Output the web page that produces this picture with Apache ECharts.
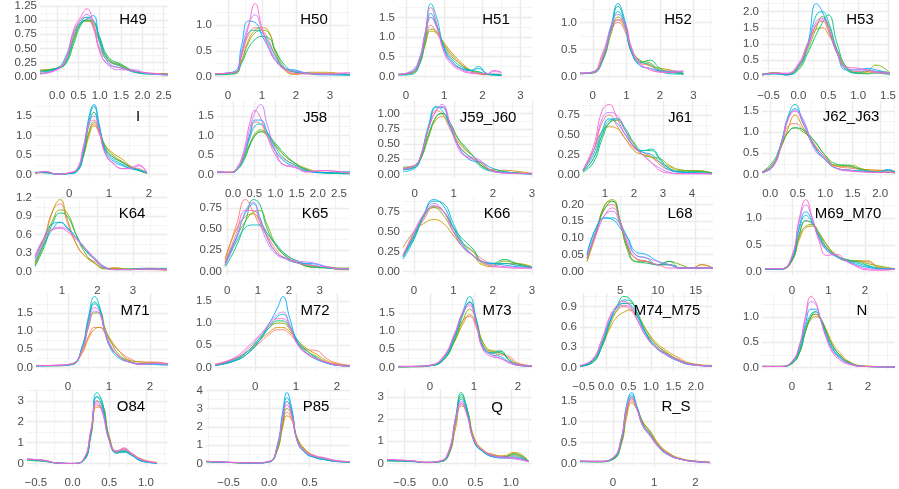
<!DOCTYPE html>
<html>
<head>
<meta charset="utf-8">
<script src="https://cdn.jsdelivr.net/npm/echarts@6.0.0/dist/echarts.min.js"></script>
<style>
html, body { margin: 0; padding: 0; background: #fff; }
#main { width: 899px; height: 489px; }
</style>
</head>
<body>
<div id="main"></div>
<script>
// one colour per year, ggplot hue order
var colors = ['#F8766D', '#CD9600', '#7CAE00', '#00BE67', '#00BFC4', '#00A9FF', '#C77CFF', '#FF61CC'];

// ---- row 1 ----
var xH49 = [-0.4, 0.0, 0.2, 0.4, 0.55, 0.7, 0.85, 1.0, 1.2, 1.5, 1.8, 2.1, 2.6];
var dH49 = [
    [0.08, 0.15, 0.3, 0.75, 1.0, 1.05, 0.85, 0.5, 0.28, 0.18, 0.08, 0.06, 0.04],
    [0.12, 0.15, 0.28, 0.7, 0.95, 1.0, 0.9, 0.6, 0.3, 0.2, 0.1, 0.06, 0.05],
    [0.1, 0.14, 0.25, 0.65, 0.92, 0.98, 0.95, 0.65, 0.32, 0.2, 0.1, 0.05, 0.05],
    [0.1, 0.15, 0.22, 0.6, 0.9, 1.0, 0.98, 0.7, 0.35, 0.22, 0.1, 0.05, 0.04],
    [0.08, 0.14, 0.25, 0.7, 0.95, 1.05, 1.0, 0.65, 0.3, 0.18, 0.08, 0.05, 0.03],
    [0.05, 0.15, 0.35, 0.8, 0.95, 1.02, 1.08, 0.6, 0.25, 0.15, 0.1, 0.06, 0.03],
    [0.05, 0.12, 0.3, 0.8, 1.0, 1.1, 0.9, 0.45, 0.2, 0.12, 0.12, 0.06, 0.03],
    [0.05, 0.13, 0.3, 0.85, 1.05, 1.2, 0.95, 0.45, 0.22, 0.15, 0.1, 0.07, 0.04]
];
var xH50 = [-0.38, 0.2, 0.4, 0.6, 0.8, 1.0, 1.2, 1.4, 1.7, 2.0, 2.4, 2.8, 3.59];
var dH50 = [
    [0.05, 0.08, 0.4, 0.8, 0.95, 0.9, 0.7, 0.4, 0.12, 0.05, 0.06, 0.05, 0.03],
    [0.04, 0.07, 0.3, 0.7, 0.9, 0.95, 0.88, 0.45, 0.1, 0.04, 0.08, 0.08, 0.03],
    [0.05, 0.06, 0.3, 0.65, 0.85, 0.9, 0.85, 0.5, 0.15, 0.08, 0.05, 0.05, 0.03],
    [0.03, 0.05, 0.25, 0.55, 0.72, 0.78, 0.75, 0.5, 0.2, 0.08, 0.06, 0.04, 0.03],
    [0.05, 0.08, 0.45, 0.85, 0.9, 0.85, 0.65, 0.4, 0.15, 0.1, 0.06, 0.04, 0.03],
    [0.05, 0.1, 0.6, 1.08, 1.05, 0.8, 0.55, 0.32, 0.15, 0.12, 0.05, 0.03, 0.03],
    [0.05, 0.08, 0.5, 1.0, 1.2, 0.9, 0.6, 0.35, 0.15, 0.1, 0.06, 0.04, 0.06],
    [0.05, 0.08, 0.4, 0.95, 1.42, 0.95, 0.55, 0.3, 0.12, 0.06, 0.05, 0.05, 0.08]
];
var xH51 = [-0.21, 0.15, 0.35, 0.5, 0.65, 0.8, 1.0, 1.2, 1.45, 1.7, 1.9, 2.1, 2.3, 2.5];
var dH51 = [
    [0.05, 0.1, 0.4, 0.9, 1.3, 1.1, 0.8, 0.5, 0.3, 0.12, 0.06, 0.04, 0.06, 0.05],
    [0.05, 0.08, 0.3, 0.8, 1.15, 1.1, 0.85, 0.6, 0.35, 0.15, 0.08, 0.05, 0.05, 0.04],
    [0.04, 0.08, 0.3, 0.8, 1.2, 1.15, 0.8, 0.55, 0.3, 0.15, 0.1, 0.05, 0.04, 0.03],
    [0.05, 0.1, 0.35, 0.95, 1.5, 1.3, 0.75, 0.45, 0.25, 0.15, 0.12, 0.06, 0.04, 0.03],
    [0.03, 0.05, 0.3, 1.0, 1.85, 1.5, 0.7, 0.35, 0.2, 0.15, 0.25, 0.08, 0.03, 0.02],
    [0.05, 0.12, 0.45, 1.1, 1.6, 1.3, 0.7, 0.4, 0.2, 0.15, 0.2, 0.08, 0.05, 0.04],
    [0.05, 0.15, 0.45, 1.05, 1.5, 1.25, 0.65, 0.35, 0.18, 0.1, 0.08, 0.06, 0.12, 0.1],
    [0.05, 0.1, 0.4, 1.1, 1.75, 1.35, 0.6, 0.3, 0.15, 0.08, 0.07, 0.06, 0.15, 0.1]
];
var xH52 = [-0.38, 0.0, 0.3, 0.55, 0.75, 0.95, 1.15, 1.4, 1.7, 2.0, 2.3, 2.7];
var dH52 = [
    [0.05, 0.08, 0.45, 0.85, 1.0, 0.85, 0.45, 0.25, 0.2, 0.1, 0.1, 0.03],
    [0.06, 0.08, 0.35, 0.85, 1.05, 0.9, 0.5, 0.3, 0.2, 0.15, 0.12, 0.05],
    [0.05, 0.07, 0.3, 0.8, 1.1, 0.95, 0.5, 0.3, 0.25, 0.12, 0.08, 0.06],
    [0.05, 0.06, 0.3, 0.9, 1.3, 1.0, 0.45, 0.25, 0.3, 0.15, 0.08, 0.05],
    [0.06, 0.07, 0.35, 0.9, 1.2, 0.95, 0.45, 0.28, 0.22, 0.1, 0.05, 0.04],
    [0.05, 0.08, 0.35, 0.95, 1.35, 1.05, 0.5, 0.2, 0.15, 0.1, 0.08, 0.08],
    [0.06, 0.08, 0.4, 0.95, 1.15, 0.95, 0.5, 0.22, 0.15, 0.08, 0.1, 0.1],
    [0.06, 0.07, 0.35, 0.85, 1.05, 1.0, 0.55, 0.25, 0.12, 0.08, 0.07, 0.1]
];
var xH53 = [-0.61, -0.4, -0.2, 0.0, 0.15, 0.3, 0.4, 0.5, 0.65, 0.8, 1.0, 1.15, 1.3, 1.53];
var dH53 = [
    [0.05, 0.1, 0.05, 0.3, 0.9, 1.6, 1.7, 1.4, 0.7, 0.25, 0.15, 0.15, 0.12, 0.1],
    [0.03, 0.12, 0.08, 0.35, 1.0, 1.45, 1.5, 1.3, 0.8, 0.3, 0.1, 0.1, 0.15, 0.12],
    [0.05, 0.08, 0.05, 0.25, 0.8, 1.5, 1.85, 1.6, 0.8, 0.25, 0.1, 0.15, 0.35, 0.1],
    [0.08, 0.1, 0.05, 0.2, 0.7, 1.3, 1.65, 1.9, 1.0, 0.3, 0.1, 0.08, 0.1, 0.05],
    [0.05, 0.08, 0.05, 0.3, 0.9, 1.9, 2.0, 1.7, 0.8, 0.2, 0.1, 0.2, 0.15, 0.08],
    [0.04, 0.08, 0.05, 0.3, 0.95, 2.25, 2.0, 1.5, 0.7, 0.2, 0.2, 0.25, 0.2, 0.1],
    [0.05, 0.1, 0.1, 0.4, 1.0, 1.7, 1.8, 1.5, 0.7, 0.25, 0.2, 0.2, 0.15, 0.1],
    [0.05, 0.1, 0.08, 0.35, 0.9, 1.6, 1.75, 1.5, 0.75, 0.3, 0.25, 0.2, 0.12, 0.1]
];

// ---- row 2 ----
var xI = [-0.86, -0.6, -0.3, 0.0, 0.2, 0.35, 0.5, 0.62, 0.75, 0.9, 1.1, 1.35, 1.55, 1.75, 1.95];
var dI = [
    [0.03, 0.06, 0.01, 0.03, 0.12, 0.5, 1.1, 1.3, 1.05, 0.65, 0.45, 0.3, 0.18, 0.15, 0.05],
    [0.05, 0.05, 0.01, 0.04, 0.12, 0.45, 1.0, 1.25, 1.1, 0.75, 0.55, 0.38, 0.2, 0.1, 0.04],
    [0.04, 0.05, 0.01, 0.03, 0.1, 0.45, 1.1, 1.35, 1.15, 0.75, 0.5, 0.32, 0.2, 0.1, 0.03],
    [0.05, 0.06, 0.01, 0.03, 0.1, 0.5, 1.3, 1.6, 1.2, 0.7, 0.45, 0.3, 0.18, 0.12, 0.03],
    [0.06, 0.04, 0.01, 0.02, 0.08, 0.5, 1.4, 1.75, 1.25, 0.65, 0.4, 0.25, 0.15, 0.12, 0.04],
    [0.04, 0.06, 0.01, 0.03, 0.1, 0.6, 1.5, 1.8, 1.3, 0.6, 0.35, 0.22, 0.15, 0.1, 0.04],
    [0.03, 0.08, 0.01, 0.04, 0.15, 0.65, 1.35, 1.5, 1.15, 0.55, 0.3, 0.15, 0.15, 0.22, 0.03],
    [0.04, 0.07, 0.01, 0.05, 0.15, 0.7, 1.3, 1.4, 1.1, 0.55, 0.28, 0.15, 0.18, 0.25, 0.05]
];
var xJ58 = [-0.38, -0.05, 0.1, 0.25, 0.4, 0.52, 0.65, 0.8, 1.0, 1.2, 1.45, 1.75, 2.1, 2.76];
var dJ58 = [
    [0.08, 0.05, 0.15, 0.5, 1.0, 1.35, 1.3, 1.0, 0.6, 0.4, 0.25, 0.1, 0.05, 0.03],
    [0.05, 0.06, 0.15, 0.4, 0.8, 1.0, 1.1, 1.0, 0.75, 0.5, 0.3, 0.15, 0.06, 0.03],
    [0.06, 0.06, 0.15, 0.4, 0.8, 1.05, 1.15, 1.05, 0.75, 0.5, 0.3, 0.12, 0.05, 0.03],
    [0.05, 0.05, 0.12, 0.35, 0.75, 1.0, 1.1, 1.05, 0.8, 0.55, 0.3, 0.12, 0.05, 0.02],
    [0.07, 0.05, 0.15, 0.45, 0.95, 1.25, 1.3, 1.1, 0.7, 0.42, 0.25, 0.1, 0.04, 0.02],
    [0.06, 0.05, 0.15, 0.5, 1.05, 1.4, 1.4, 1.1, 0.6, 0.35, 0.2, 0.08, 0.05, 0.08],
    [0.05, 0.05, 0.15, 0.5, 1.2, 1.6, 1.8, 1.3, 0.6, 0.25, 0.18, 0.08, 0.1, 0.03],
    [0.08, 0.06, 0.2, 0.6, 1.35, 1.65, 1.45, 1.0, 0.5, 0.25, 0.2, 0.06, 0.1, 0.04]
];
var xJ59 = [-0.3, 0.0, 0.15, 0.35, 0.55, 0.7, 0.9, 1.1, 1.3, 1.5, 1.7, 2.0, 2.5, 3.0];
var dJ59 = [
    [0.08, 0.12, 0.3, 0.75, 1.05, 1.0, 0.75, 0.5, 0.35, 0.25, 0.15, 0.06, 0.03, 0.01],
    [0.1, 0.15, 0.28, 0.65, 0.9, 0.95, 0.8, 0.55, 0.4, 0.3, 0.15, 0.08, 0.06, 0.02],
    [0.12, 0.15, 0.25, 0.6, 0.95, 1.0, 0.85, 0.6, 0.42, 0.3, 0.18, 0.06, 0.03, 0.01],
    [0.1, 0.12, 0.25, 0.65, 0.95, 1.0, 0.85, 0.6, 0.45, 0.3, 0.15, 0.06, 0.03, 0.01],
    [0.05, 0.1, 0.3, 0.8, 1.12, 1.05, 0.8, 0.5, 0.35, 0.25, 0.12, 0.05, 0.02, 0.01],
    [0.08, 0.12, 0.3, 0.75, 1.1, 1.1, 0.8, 0.5, 0.3, 0.22, 0.2, 0.1, 0.03, 0.01],
    [0.1, 0.15, 0.3, 0.75, 1.05, 1.15, 0.85, 0.45, 0.3, 0.28, 0.22, 0.05, 0.02, 0.01],
    [0.1, 0.15, 0.3, 0.75, 1.05, 1.12, 0.85, 0.5, 0.3, 0.25, 0.2, 0.06, 0.02, 0.02]
];
var xJ61 = [0.24, 0.6, 0.9, 1.15, 1.4, 1.7, 2.0, 2.3, 2.6, 2.9, 3.2, 3.6, 4.2, 4.69];
var dJ61 = [
    [0.05, 0.3, 0.65, 0.75, 0.62, 0.45, 0.33, 0.28, 0.22, 0.12, 0.06, 0.03, 0.02, 0.01],
    [0.06, 0.3, 0.55, 0.6, 0.58, 0.45, 0.3, 0.25, 0.22, 0.15, 0.1, 0.05, 0.05, 0.02],
    [0.04, 0.2, 0.5, 0.65, 0.68, 0.55, 0.38, 0.25, 0.22, 0.2, 0.12, 0.06, 0.04, 0.02],
    [0.03, 0.15, 0.45, 0.65, 0.7, 0.58, 0.4, 0.3, 0.3, 0.18, 0.08, 0.04, 0.04, 0.02],
    [0.04, 0.2, 0.5, 0.68, 0.7, 0.55, 0.35, 0.3, 0.32, 0.2, 0.08, 0.03, 0.02, 0.01],
    [0.05, 0.25, 0.55, 0.7, 0.65, 0.5, 0.35, 0.28, 0.25, 0.15, 0.06, 0.03, 0.02, 0.01],
    [0.06, 0.3, 0.7, 0.78, 0.75, 0.55, 0.35, 0.25, 0.15, 0.08, 0.03, 0.01, 0.01, 0.01],
    [0.06, 0.35, 0.8, 0.88, 0.72, 0.5, 0.35, 0.25, 0.15, 0.05, 0.02, 0.01, 0.01, 0.01]
];
var xJ62 = [-0.15, 0.05, 0.2, 0.33, 0.45, 0.6, 0.8, 1.0, 1.2, 1.45, 1.7, 1.95, 2.15, 2.27];
var dJ62 = [
    [0.05, 0.25, 0.7, 1.15, 1.2, 1.05, 0.7, 0.4, 0.2, 0.15, 0.12, 0.1, 0.1, 0.08],
    [0.04, 0.2, 0.65, 1.1, 1.4, 1.1, 0.72, 0.4, 0.2, 0.18, 0.12, 0.1, 0.08, 0.06],
    [0.05, 0.25, 0.65, 1.0, 1.1, 1.0, 0.78, 0.45, 0.22, 0.22, 0.12, 0.06, 0.05, 0.04],
    [0.06, 0.3, 0.7, 1.0, 1.1, 1.05, 0.8, 0.45, 0.25, 0.2, 0.1, 0.06, 0.05, 0.04],
    [0.04, 0.2, 0.75, 1.4, 1.65, 1.2, 0.65, 0.35, 0.15, 0.1, 0.08, 0.05, 0.1, 0.05],
    [0.05, 0.2, 0.75, 1.35, 1.55, 1.25, 0.68, 0.35, 0.15, 0.1, 0.08, 0.05, 0.12, 0.05],
    [0.05, 0.18, 0.7, 1.35, 1.5, 1.3, 0.6, 0.35, 0.15, 0.1, 0.06, 0.05, 0.06, 0.04],
    [0.06, 0.22, 0.7, 1.3, 1.5, 1.2, 0.7, 0.4, 0.15, 0.08, 0.06, 0.05, 0.05, 0.04]
];

// ---- row 3 ----
var xK64 = [0.24, 0.5, 0.75, 0.95, 1.15, 1.4, 1.65, 1.95, 2.2, 2.5, 2.9, 3.4, 3.96];
var dK64 = [
    [0.15, 0.55, 1.0, 1.1, 0.8, 0.45, 0.25, 0.15, 0.05, 0.05, 0.03, 0.03, 0.02],
    [0.12, 0.5, 1.0, 1.17, 0.85, 0.45, 0.25, 0.12, 0.04, 0.06, 0.03, 0.04, 0.02],
    [0.1, 0.45, 0.85, 1.0, 0.95, 0.6, 0.3, 0.12, 0.05, 0.04, 0.04, 0.05, 0.04],
    [0.08, 0.4, 0.8, 0.95, 0.9, 0.6, 0.35, 0.18, 0.06, 0.03, 0.04, 0.05, 0.05],
    [0.15, 0.45, 0.7, 0.8, 0.72, 0.55, 0.35, 0.2, 0.08, 0.03, 0.03, 0.04, 0.03],
    [0.22, 0.55, 0.78, 0.8, 0.7, 0.55, 0.38, 0.18, 0.06, 0.03, 0.03, 0.04, 0.03],
    [0.2, 0.5, 0.7, 0.72, 0.68, 0.55, 0.38, 0.18, 0.06, 0.03, 0.03, 0.04, 0.04],
    [0.25, 0.55, 0.68, 0.7, 0.65, 0.52, 0.38, 0.2, 0.07, 0.03, 0.03, 0.04, 0.03]
];
var xK65 = [-0.07, 0.3, 0.6, 0.85, 1.05, 1.3, 1.6, 1.9, 2.3, 2.8, 3.3, 3.7, 3.95];
var dK65 = [
    [0.12, 0.55, 0.85, 0.7, 0.55, 0.42, 0.25, 0.15, 0.1, 0.06, 0.04, 0.03, 0.03],
    [0.15, 0.5, 0.65, 0.68, 0.6, 0.45, 0.3, 0.2, 0.12, 0.05, 0.04, 0.02, 0.02],
    [0.1, 0.4, 0.6, 0.7, 0.72, 0.55, 0.3, 0.18, 0.1, 0.05, 0.05, 0.04, 0.04],
    [0.05, 0.3, 0.6, 0.85, 0.8, 0.5, 0.3, 0.18, 0.1, 0.05, 0.04, 0.03, 0.03],
    [0.08, 0.35, 0.52, 0.55, 0.55, 0.45, 0.32, 0.2, 0.12, 0.07, 0.04, 0.03, 0.03],
    [0.08, 0.4, 0.7, 0.8, 0.65, 0.4, 0.22, 0.15, 0.1, 0.09, 0.05, 0.03, 0.03],
    [0.07, 0.38, 0.72, 0.82, 0.6, 0.35, 0.2, 0.15, 0.12, 0.1, 0.05, 0.03, 0.03],
    [0.1, 0.45, 0.72, 0.72, 0.62, 0.4, 0.22, 0.16, 0.1, 0.07, 0.05, 0.03, 0.04]
];
var xK66 = [-0.28, 0.0, 0.25, 0.5, 0.75, 1.0, 1.25, 1.5, 1.75, 2.0, 2.3, 2.6, 3.0];
var dK66 = [
    [0.2, 0.45, 0.65, 0.8, 0.75, 0.55, 0.35, 0.25, 0.15, 0.1, 0.1, 0.08, 0.05],
    [0.3, 0.5, 0.6, 0.65, 0.6, 0.45, 0.3, 0.2, 0.08, 0.06, 0.1, 0.1, 0.06],
    [0.2, 0.45, 0.7, 0.8, 0.7, 0.5, 0.35, 0.25, 0.1, 0.08, 0.13, 0.1, 0.05],
    [0.18, 0.42, 0.68, 0.82, 0.75, 0.55, 0.4, 0.28, 0.12, 0.1, 0.15, 0.1, 0.05],
    [0.15, 0.4, 0.7, 0.88, 0.85, 0.6, 0.35, 0.2, 0.12, 0.1, 0.1, 0.08, 0.05],
    [0.18, 0.45, 0.72, 0.9, 0.82, 0.55, 0.32, 0.2, 0.12, 0.1, 0.08, 0.06, 0.05],
    [0.2, 0.5, 0.72, 0.85, 0.75, 0.5, 0.3, 0.2, 0.12, 0.08, 0.06, 0.05, 0.04],
    [0.2, 0.48, 0.7, 0.82, 0.75, 0.5, 0.3, 0.2, 0.12, 0.06, 0.05, 0.04, 0.04]
];
var xL68 = [0.6, 1.8, 3.0, 4.0, 5.0, 6.0, 7.0, 8.5, 10, 11.5, 13, 14.5, 15.8, 17.3];
var dL68 = [
    [0.04, 0.12, 0.19, 0.2, 0.15, 0.08, 0.04, 0.03, 0.02, 0.02, 0.01, 0.01, 0.02, 0.01],
    [0.03, 0.11, 0.2, 0.21, 0.14, 0.07, 0.04, 0.03, 0.02, 0.02, 0.01, 0.01, 0.02, 0.01],
    [0.03, 0.12, 0.2, 0.215, 0.15, 0.06, 0.03, 0.03, 0.02, 0.03, 0.02, 0.01, 0.01, 0.01],
    [0.04, 0.12, 0.19, 0.21, 0.15, 0.07, 0.03, 0.025, 0.02, 0.03, 0.01, 0.01, 0.01, 0.01],
    [0.05, 0.13, 0.16, 0.16, 0.14, 0.1, 0.05, 0.04, 0.02, 0.02, 0.01, 0.01, 0.01, 0.01],
    [0.05, 0.13, 0.16, 0.155, 0.13, 0.1, 0.06, 0.05, 0.03, 0.02, 0.01, 0.01, 0.01, 0.01],
    [0.04, 0.12, 0.17, 0.18, 0.14, 0.09, 0.05, 0.04, 0.03, 0.02, 0.01, 0.01, 0.01, 0.01],
    [0.04, 0.11, 0.17, 0.19, 0.15, 0.08, 0.04, 0.03, 0.02, 0.01, 0.01, 0.01, 0.01, 0.01]
];
var xM69 = [-0.74, -0.3, 0.0, 0.2, 0.38, 0.55, 0.75, 0.95, 1.2, 1.5, 1.8, 2.05, 2.4, 2.82];
var dM69 = [
    [0.05, 0.04, 0.2, 0.7, 0.95, 0.9, 0.65, 0.45, 0.3, 0.22, 0.18, 0.18, 0.06, 0.04],
    [0.05, 0.04, 0.2, 0.6, 0.82, 0.85, 0.7, 0.5, 0.32, 0.22, 0.2, 0.2, 0.08, 0.05],
    [0.04, 0.05, 0.2, 0.65, 0.85, 0.88, 0.72, 0.5, 0.3, 0.2, 0.2, 0.15, 0.1, 0.05],
    [0.04, 0.05, 0.22, 0.7, 0.95, 0.9, 0.68, 0.45, 0.3, 0.22, 0.18, 0.12, 0.06, 0.04],
    [0.05, 0.05, 0.25, 0.8, 1.05, 0.92, 0.65, 0.42, 0.3, 0.2, 0.15, 0.1, 0.05, 0.04],
    [0.04, 0.04, 0.25, 0.85, 1.12, 0.95, 0.62, 0.4, 0.28, 0.2, 0.12, 0.08, 0.05, 0.05],
    [0.05, 0.05, 0.28, 0.95, 1.25, 1.0, 0.6, 0.4, 0.3, 0.18, 0.1, 0.05, 0.04, 0.05],
    [0.05, 0.05, 0.3, 1.0, 1.35, 1.02, 0.55, 0.3, 0.32, 0.2, 0.08, 0.03, 0.02, 0.04]
];

// ---- row 4 ----
var xM71 = [-0.78, -0.3, 0.1, 0.35, 0.5, 0.65, 0.78, 0.9, 1.05, 1.25, 1.5, 1.8, 2.1, 2.44];
var dM71 = [
    [0.05, 0.06, 0.1, 0.45, 0.85, 1.1, 1.1, 0.95, 0.7, 0.45, 0.25, 0.15, 0.15, 0.1],
    [0.06, 0.05, 0.1, 0.4, 0.8, 1.05, 1.1, 1.0, 0.75, 0.45, 0.2, 0.15, 0.12, 0.1],
    [0.05, 0.05, 0.1, 0.5, 1.1, 1.5, 1.5, 1.1, 0.7, 0.35, 0.18, 0.1, 0.12, 0.08],
    [0.05, 0.05, 0.08, 0.55, 1.3, 1.8, 1.6, 1.0, 0.55, 0.3, 0.15, 0.1, 0.1, 0.08],
    [0.05, 0.05, 0.08, 0.6, 1.4, 1.95, 1.65, 1.0, 0.5, 0.25, 0.15, 0.1, 0.08, 0.06],
    [0.04, 0.05, 0.1, 0.55, 1.3, 1.75, 1.55, 1.0, 0.55, 0.3, 0.15, 0.1, 0.1, 0.08],
    [0.05, 0.06, 0.1, 0.5, 1.15, 1.55, 1.45, 1.0, 0.6, 0.3, 0.15, 0.08, 0.1, 0.08],
    [0.05, 0.06, 0.1, 0.5, 1.2, 1.65, 1.5, 0.95, 0.55, 0.3, 0.15, 0.1, 0.12, 0.1]
];
var xM72 = [-0.98, -0.5, -0.2, 0.1, 0.35, 0.55, 0.68, 0.85, 1.05, 1.3, 1.5, 1.75, 2.0, 2.32];
var dM72 = [
    [0.08, 0.2, 0.35, 0.55, 0.75, 0.85, 0.85, 0.75, 0.55, 0.4, 0.38, 0.2, 0.1, 0.05],
    [0.06, 0.18, 0.35, 0.6, 0.8, 0.9, 0.9, 0.8, 0.6, 0.4, 0.3, 0.15, 0.08, 0.04],
    [0.05, 0.15, 0.35, 0.65, 0.9, 1.0, 1.0, 0.85, 0.55, 0.35, 0.25, 0.12, 0.06, 0.03],
    [0.05, 0.15, 0.3, 0.6, 0.9, 1.05, 1.05, 0.9, 0.6, 0.35, 0.22, 0.1, 0.05, 0.03],
    [0.05, 0.18, 0.35, 0.65, 0.95, 1.15, 1.2, 0.95, 0.55, 0.3, 0.2, 0.1, 0.05, 0.03],
    [0.04, 0.15, 0.3, 0.6, 1.0, 1.35, 1.6, 1.1, 0.55, 0.3, 0.18, 0.1, 0.05, 0.03],
    [0.06, 0.2, 0.4, 0.7, 1.0, 1.2, 1.25, 0.95, 0.5, 0.28, 0.2, 0.1, 0.05, 0.03],
    [0.06, 0.22, 0.45, 0.72, 0.95, 1.1, 1.1, 0.9, 0.5, 0.3, 0.2, 0.12, 0.06, 0.03]
];
var xM73 = [-0.73, -0.3, 0.0, 0.3, 0.55, 0.75, 0.9, 1.05, 1.2, 1.4, 1.6, 1.8, 2.0, 2.32];
var dM73 = [
    [0.02, 0.03, 0.06, 0.25, 0.8, 1.3, 1.4, 1.1, 0.6, 0.4, 0.35, 0.3, 0.12, 0.05],
    [0.02, 0.03, 0.05, 0.2, 0.7, 1.2, 1.45, 1.2, 0.7, 0.45, 0.4, 0.25, 0.1, 0.05],
    [0.02, 0.02, 0.05, 0.2, 0.7, 1.3, 1.6, 1.3, 0.7, 0.45, 0.45, 0.2, 0.08, 0.04],
    [0.02, 0.03, 0.05, 0.2, 0.75, 1.45, 1.8, 1.3, 0.6, 0.4, 0.4, 0.2, 0.08, 0.03],
    [0.02, 0.03, 0.05, 0.22, 0.8, 1.55, 1.95, 1.35, 0.6, 0.4, 0.45, 0.2, 0.06, 0.03],
    [0.02, 0.02, 0.05, 0.25, 0.85, 1.5, 1.8, 1.25, 0.55, 0.35, 0.3, 0.15, 0.06, 0.03],
    [0.03, 0.03, 0.06, 0.28, 0.9, 1.5, 1.7, 1.2, 0.55, 0.35, 0.25, 0.15, 0.08, 0.04],
    [0.03, 0.03, 0.06, 0.3, 0.9, 1.55, 1.75, 1.2, 0.5, 0.3, 0.25, 0.12, 0.06, 0.03]
];
var xM74 = [-0.58, -0.3, -0.1, 0.1, 0.25, 0.4, 0.55, 0.7, 0.9, 1.1, 1.35, 1.6, 1.9, 2.36];
var dM74 = [
    [0.02, 0.1, 0.35, 0.7, 0.85, 0.9, 0.85, 0.7, 0.5, 0.35, 0.22, 0.12, 0.05, 0.02],
    [0.02, 0.08, 0.3, 0.6, 0.75, 0.82, 0.85, 0.75, 0.55, 0.38, 0.25, 0.15, 0.06, 0.03],
    [0.02, 0.08, 0.3, 0.65, 0.85, 0.95, 0.95, 0.8, 0.55, 0.35, 0.22, 0.12, 0.05, 0.02],
    [0.02, 0.07, 0.3, 0.7, 0.92, 1.05, 1.0, 0.8, 0.5, 0.3, 0.2, 0.1, 0.05, 0.02],
    [0.02, 0.08, 0.32, 0.7, 0.9, 1.0, 0.98, 0.78, 0.5, 0.32, 0.2, 0.1, 0.04, 0.02],
    [0.02, 0.1, 0.35, 0.72, 0.9, 0.95, 0.92, 0.75, 0.48, 0.3, 0.18, 0.1, 0.04, 0.02],
    [0.03, 0.12, 0.4, 0.75, 0.88, 0.92, 0.88, 0.7, 0.45, 0.3, 0.18, 0.1, 0.04, 0.02],
    [0.03, 0.12, 0.4, 0.78, 0.92, 0.98, 0.9, 0.7, 0.45, 0.3, 0.2, 0.12, 0.05, 0.02]
];
var xN = [-0.79, -0.3, 0.0, 0.2, 0.35, 0.5, 0.62, 0.75, 0.9, 1.05, 1.25, 1.5, 1.9, 2.71];
var dN = [
    [0.02, 0.02, 0.1, 0.35, 0.75, 1.0, 1.05, 0.95, 0.7, 0.45, 0.25, 0.1, 0.03, 0.01],
    [0.02, 0.02, 0.08, 0.3, 0.7, 0.95, 1.0, 0.95, 0.75, 0.5, 0.3, 0.12, 0.03, 0.01],
    [0.02, 0.02, 0.08, 0.3, 0.7, 1.0, 1.05, 0.95, 0.72, 0.45, 0.25, 0.1, 0.02, 0.01],
    [0.02, 0.02, 0.08, 0.3, 0.7, 1.0, 1.1, 0.98, 0.7, 0.45, 0.25, 0.1, 0.02, 0.01],
    [0.02, 0.02, 0.1, 0.35, 0.8, 1.05, 1.1, 0.95, 0.65, 0.4, 0.22, 0.08, 0.02, 0.01],
    [0.02, 0.02, 0.1, 0.4, 0.85, 1.15, 1.15, 0.95, 0.62, 0.38, 0.2, 0.08, 0.02, 0.01],
    [0.02, 0.02, 0.12, 0.45, 0.95, 1.3, 1.25, 0.95, 0.6, 0.35, 0.18, 0.08, 0.02, 0.01],
    [0.02, 0.02, 0.12, 0.45, 1.0, 1.4, 1.3, 0.95, 0.58, 0.32, 0.15, 0.06, 0.02, 0.01]
];

// ---- row 5 ----
var xO84 = [-0.62, -0.4, -0.2, 0.0, 0.15, 0.25, 0.33, 0.4, 0.5, 0.6, 0.7, 0.8, 0.95, 1.15];
var dO84 = [
    [0.2, 0.15, 0.02, 0.0, 0.2, 1.5, 2.8, 2.6, 1.2, 0.55, 0.65, 0.45, 0.15, 0.03],
    [0.18, 0.15, 0.02, 0.0, 0.15, 1.3, 2.7, 2.7, 1.3, 0.6, 0.7, 0.5, 0.2, 0.05],
    [0.2, 0.12, 0.02, 0.0, 0.15, 1.4, 3.0, 2.8, 1.2, 0.55, 0.6, 0.45, 0.15, 0.03],
    [0.15, 0.1, 0.02, 0.0, 0.12, 1.4, 3.2, 3.0, 1.2, 0.5, 0.55, 0.4, 0.1, 0.02],
    [0.2, 0.12, 0.02, 0.0, 0.15, 1.5, 3.4, 3.0, 1.1, 0.5, 0.55, 0.4, 0.1, 0.02],
    [0.2, 0.15, 0.02, 0.0, 0.15, 1.5, 3.2, 2.8, 1.1, 0.55, 0.6, 0.4, 0.12, 0.02],
    [0.22, 0.15, 0.02, 0.0, 0.2, 1.6, 3.0, 2.6, 1.1, 0.6, 0.7, 0.45, 0.15, 0.03],
    [0.2, 0.15, 0.02, 0.0, 0.2, 1.6, 2.9, 2.5, 1.1, 0.55, 0.75, 0.5, 0.18, 0.04]
];
var xP85 = [-0.78, -0.45, -0.2, 0.0, 0.1, 0.17, 0.22, 0.28, 0.35, 0.45, 0.55, 0.7, 0.85, 1.0];
var dP85 = [
    [0.1, 0.05, 0.03, 0.1, 0.8, 2.2, 2.8, 2.4, 1.3, 0.7, 0.4, 0.25, 0.15, 0.1],
    [0.12, 0.05, 0.03, 0.1, 0.7, 2.0, 2.6, 2.4, 1.4, 0.75, 0.45, 0.25, 0.12, 0.1],
    [0.1, 0.05, 0.03, 0.08, 0.7, 2.2, 3.0, 2.6, 1.3, 0.7, 0.4, 0.25, 0.12, 0.08],
    [0.1, 0.05, 0.02, 0.08, 0.8, 2.5, 3.4, 2.8, 1.3, 0.6, 0.35, 0.2, 0.1, 0.08],
    [0.1, 0.05, 0.02, 0.08, 0.9, 2.7, 3.6, 2.9, 1.2, 0.6, 0.35, 0.2, 0.1, 0.08],
    [0.1, 0.05, 0.02, 0.1, 1.0, 2.9, 3.88, 3.0, 1.2, 0.55, 0.35, 0.2, 0.1, 0.08],
    [0.12, 0.06, 0.03, 0.1, 0.9, 2.6, 3.4, 2.7, 1.2, 0.6, 0.4, 0.25, 0.12, 0.1],
    [0.12, 0.06, 0.03, 0.12, 0.9, 2.5, 3.2, 2.6, 1.25, 0.65, 0.45, 0.3, 0.15, 0.1]
];
var xQ = [-0.75, -0.4, -0.2, 0.0, 0.12, 0.22, 0.3, 0.38, 0.48, 0.6, 0.75, 0.9, 1.05, 1.25];
var dQ = [
    [0.15, 0.12, 0.05, 0.1, 0.4, 1.8, 2.7, 2.3, 1.1, 0.6, 0.4, 0.3, 0.35, 0.1],
    [0.12, 0.1, 0.05, 0.08, 0.35, 1.6, 2.6, 2.4, 1.2, 0.65, 0.4, 0.35, 0.5, 0.12],
    [0.15, 0.1, 0.05, 0.08, 0.4, 1.9, 3.0, 2.5, 1.1, 0.6, 0.35, 0.3, 0.45, 0.1],
    [0.12, 0.08, 0.04, 0.08, 0.4, 2.0, 3.2, 2.5, 1.0, 0.55, 0.35, 0.3, 0.4, 0.08],
    [0.12, 0.1, 0.04, 0.08, 0.45, 2.1, 3.1, 2.4, 1.0, 0.55, 0.3, 0.25, 0.3, 0.08],
    [0.15, 0.1, 0.05, 0.1, 0.5, 2.0, 2.9, 2.3, 1.0, 0.55, 0.3, 0.25, 0.25, 0.08],
    [0.18, 0.12, 0.05, 0.1, 0.5, 1.9, 2.7, 2.2, 1.05, 0.6, 0.35, 0.25, 0.2, 0.08],
    [0.18, 0.12, 0.05, 0.12, 0.55, 2.0, 2.8, 2.2, 1.05, 0.6, 0.35, 0.3, 0.25, 0.1]
];
var xRS = [-0.8, -0.35, 0.0, 0.2, 0.33, 0.45, 0.58, 0.72, 0.9, 1.1, 1.35, 1.65, 2.0, 2.35];
var dRS = [
    [0.05, 0.05, 0.12, 0.5, 1.2, 1.5, 1.3, 1.0, 0.75, 0.45, 0.25, 0.1, 0.05, 0.03],
    [0.05, 0.05, 0.1, 0.45, 1.1, 1.45, 1.3, 1.0, 0.78, 0.48, 0.25, 0.12, 0.06, 0.03],
    [0.05, 0.04, 0.1, 0.5, 1.25, 1.55, 1.35, 1.0, 0.75, 0.45, 0.22, 0.1, 0.05, 0.03],
    [0.04, 0.04, 0.1, 0.5, 1.3, 1.6, 1.35, 0.95, 0.7, 0.42, 0.22, 0.1, 0.05, 0.02],
    [0.05, 0.04, 0.12, 0.55, 1.35, 1.65, 1.35, 0.95, 0.7, 0.4, 0.2, 0.1, 0.05, 0.02],
    [0.05, 0.05, 0.12, 0.6, 1.4, 1.7, 1.35, 0.9, 0.68, 0.4, 0.2, 0.1, 0.04, 0.02],
    [0.06, 0.05, 0.14, 0.6, 1.35, 1.6, 1.3, 0.9, 0.65, 0.4, 0.2, 0.1, 0.04, 0.02],
    [0.06, 0.05, 0.14, 0.6, 1.3, 1.55, 1.3, 0.92, 0.68, 0.42, 0.22, 0.1, 0.05, 0.03]
];

// panel names, x ranges and tick labels
var panels = [
    {name: 'H49', x: xH49, d: dH49, xr: [-0.4, 2.6], xt: ['0.0', '0.5', '1.0', '1.5', '2.0', '2.5'], yt: ['0.00', '0.25', '0.50', '0.75', '1.00', '1.25']},
    {name: 'H50', x: xH50, d: dH50, xr: [-0.38, 3.59], xt: ['0', '1', '2', '3'], yt: ['0.0', '0.5', '1.0']},
    {name: 'H51', x: xH51, d: dH51, xr: [-0.21, 3.3], xt: ['0', '1', '2', '3'], yt: ['0.0', '0.5', '1.0', '1.5']},
    {name: 'H52', x: xH52, d: dH52, xr: [-0.38, 3.55], xt: ['0', '1', '2', '3'], yt: ['0.0', '0.5', '1.0']},
    {name: 'H53', x: xH53, d: dH53, xr: [-0.61, 1.53], xt: ['−0.5', '0.0', '0.5', '1.0', '1.5'], yt: ['0.0', '0.5', '1.0', '1.5', '2.0']},
    {name: 'I', x: xI, d: dI, xr: [-0.86, 2.48], xt: ['0', '1', '2'], yt: ['0.0', '0.5', '1.0', '1.5']},
    {name: 'J58', x: xJ58, d: dJ58, xr: [-0.38, 2.76], xt: ['0.0', '0.5', '1.0', '1.5', '2.0', '2.5'], yt: ['0.0', '0.5', '1.0', '1.5']},
    {name: 'J59_J60', x: xJ59, d: dJ59, xr: [-0.3, 3.0], xt: ['0', '1', '2', '3'], yt: ['0.00', '0.25', '0.50', '0.75', '1.00']},
    {name: 'J61', x: xJ61, d: dJ61, xr: [0.24, 4.69], xt: ['1', '2', '3', '4'], yt: ['0.00', '0.25', '0.50', '0.75']},
    {name: 'J62_J63', x: xJ62, d: dJ62, xr: [-0.15, 2.27], xt: ['0.0', '0.5', '1.0', '1.5', '2.0'], yt: ['0.0', '0.5', '1.0', '1.5']},
    {name: 'K64', x: xK64, d: dK64, xr: [0.24, 3.96], xt: ['1', '2', '3'], yt: ['0.0', '0.3', '0.6', '0.9', '1.2']},
    {name: 'K65', x: xK65, d: dK65, xr: [-0.07, 3.95], xt: ['0', '1', '2', '3'], yt: ['0.00', '0.25', '0.50', '0.75']},
    {name: 'K66', x: xK66, d: dK66, xr: [-0.28, 3.0], xt: ['0', '1', '2', '3'], yt: ['0.00', '0.25', '0.50', '0.75']},
    {name: 'L68', x: xL68, d: dL68, xr: [0.6, 17.3], xt: ['5', '10', '15'], yt: ['0.00', '0.05', '0.10', '0.15', '0.20']},
    {name: 'M69_M70', x: xM69, d: dM69, xr: [-0.74, 2.82], xt: ['0', '1', '2'], yt: ['0.0', '0.5', '1.0']},
    {name: 'M71', x: xM71, d: dM71, xr: [-0.78, 2.44], xt: ['0', '1', '2'], yt: ['0.0', '0.5', '1.0', '1.5']},
    {name: 'M72', x: xM72, d: dM72, xr: [-0.98, 2.32], xt: ['0', '1', '2'], yt: ['0.0', '0.5', '1.0', '1.5']},
    {name: 'M73', x: xM73, d: dM73, xr: [-0.73, 2.32], xt: ['0', '1', '2'], yt: ['0.0', '0.5', '1.0', '1.5']},
    {name: 'M74_M75', x: xM74, d: dM74, xr: [-0.58, 2.36], xt: ['−0.5', '0.0', '0.5', '1.0', '1.5', '2.0'], yt: ['0.0', '0.3', '0.6', '0.9']},
    {name: 'N', x: xN, d: dN, xr: [-0.79, 2.71], xt: ['0', '1', '2'], yt: ['0.0', '0.5', '1.0']},
    {name: 'O84', x: xO84, d: dO84, xr: [-0.62, 1.3], xt: ['−0.5', '0.0', '0.5', '1.0'], yt: ['0', '1', '2', '3']},
    {name: 'P85', x: xP85, d: dP85, xr: [-0.78, 1.0], xt: ['−0.5', '0.0', '0.5'], yt: ['0', '1', '2', '3', '4']},
    {name: 'Q', x: xQ, d: dQ, xr: [-0.75, 1.3], xt: ['−0.5', '0.0', '0.5', '1.0'], yt: ['0', '1', '2', '3']},
    {name: 'R_S', x: xRS, d: dRS, xr: [-0.8, 2.4], xt: ['0', '1', '2'], yt: ['0.0', '0.5', '1.0', '1.5']}
];

// panel boxes [left, top, right, bottom] and title centres, in pixels
var boxes = [
    [40, 0, 168, 80], [215, 0, 350, 80], [398, 0, 532, 80], [580, 0, 712, 80], [762, 0, 895, 80],
    [35, 101, 168, 178], [217, 101, 350, 178], [403, 101, 532, 178], [583, 101, 712, 178], [762, 101, 895, 178],
    [35, 196, 167, 275], [225, 196, 349, 275], [403, 196, 532, 275], [587, 196, 713, 275], [765, 196, 895, 275],
    [36, 293, 168, 371], [215, 293, 350, 371], [398, 293, 532, 371], [580, 293, 712, 371], [762, 293, 895, 371],
    [27, 389, 168, 468], [206, 389, 350, 468], [387, 389, 532, 468], [580, 389, 712, 468]
];
var titlePos = [
    [133, 20], [314, 20], [496, 20], [678, 20], [860, 20],
    [138, 117], [315, 118], [488, 118], [680, 118], [851, 117],
    [132, 214], [315, 214], [497, 214], [680, 214], [848, 214],
    [135, 311], [315, 311], [497, 311], [667, 311], [862, 311],
    [131, 407], [316, 407], [497, 408], [676, 407]
];

var FONT = '"Liberation Sans", Arial, sans-serif';

function toNums(labels) {
    return labels.map(function(s) { return parseFloat(s.replace('−', '-')); });
}

function minorVals(v) {
    var step = v[1] - v[0];
    var out = [v[0] - step / 2];
    for (var k = 0; k < v.length; k++) out.push(v[k] + step / 2);
    return out;
}

function majorAxis(i, range, labels, isX) {
    var v = toNums(labels);
    return {
        type: 'value', gridIndex: i, min: range[0], max: range[1],
        axisLine: {show: false},
        axisTick: {show: false, customValues: v},
        axisLabel: {
            customValues: v, color: '#4d4d4d', fontSize: 11.5, fontFamily: FONT,
            margin: isX ? 10 : 3,
            formatter: function(val) {
                for (var k = 0; k < v.length; k++) {
                    if (Math.abs(v[k] - val) < 1e-9) return labels[k];
                }
                return '';
            }
        },
        splitLine: {show: true, lineStyle: {color: '#ebebeb', width: 1.4}}
    };
}

function minorAxis(i, range, labels) {
    var v = minorVals(toNums(labels));
    return {
        type: 'value', gridIndex: i, min: range[0], max: range[1],
        axisLine: {show: false},
        axisTick: {show: false, customValues: v},
        axisLabel: {show: false},
        splitLine: {show: true, lineStyle: {color: '#f1f1f1', width: 0.8}}
    };
}

var option = {
    animation: false,
    backgroundColor: '#fff',
    grid: [], xAxis: [], yAxis: [], series: [], graphic: []
};

panels.forEach(function(p, i) {
    var b = boxes[i];
    option.grid.push({left: b[0], top: b[1], width: b[2] - b[0], height: b[3] - b[1]});

    var top = 0;
    p.d.forEach(function(c) { c.forEach(function(v) { if (v > top) top = v; }); });
    var yr = [-0.05 * top, 1.05 * top];

    option.xAxis.push(majorAxis(i, p.xr, p.xt, true));
    option.xAxis.push(minorAxis(i, p.xr, p.xt));
    option.yAxis.push(majorAxis(i, yr, p.yt, false));
    option.yAxis.push(minorAxis(i, yr, p.yt));

    p.d.forEach(function(c, j) {
        option.series.push({
            type: 'line',
            xAxisIndex: 2 * i, yAxisIndex: 2 * i,
            data: p.x.map(function(xv, k) { return [xv, c[k]]; }),
            smooth: 0.5,
            showSymbol: false,
            silent: true,
            lineStyle: {width: 0.9, color: colors[j]},
            itemStyle: {color: colors[j]}
        });
    });

    option.graphic.push({
        type: 'text', x: titlePos[i][0], y: titlePos[i][1], z: 100,
        style: {text: p.name, fill: '#000', font: '15px ' + FONT, align: 'center', verticalAlign: 'middle'}
    });
});

var myChart = echarts.init(document.getElementById('main'));
myChart.setOption(option);
</script>
</body>
</html>
